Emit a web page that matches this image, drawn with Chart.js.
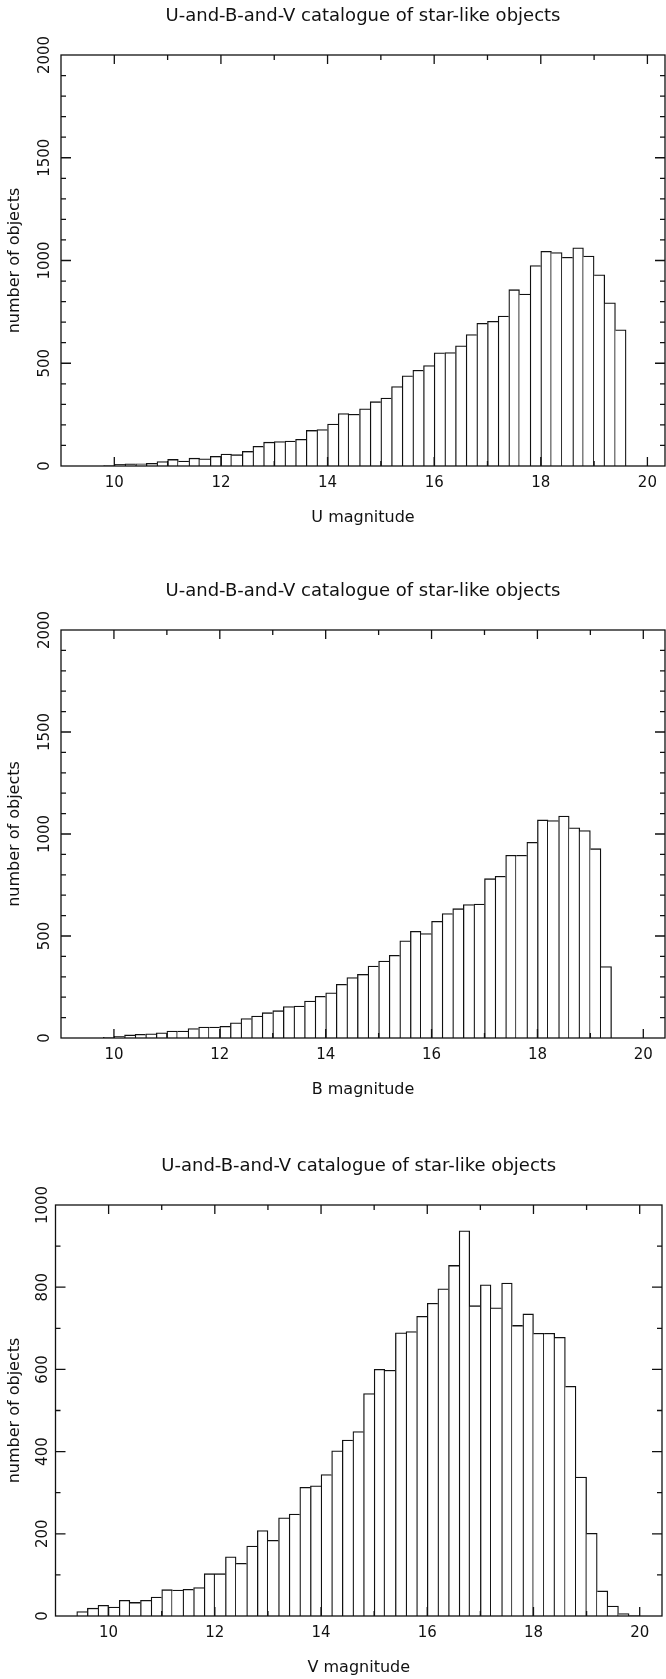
<!DOCTYPE html>
<html>
<head>
<meta charset="utf-8">
<title>U-and-B-and-V catalogue of star-like objects</title>
<script src="https://cdn.jsdelivr.net/npm/chart.js@4.4.1/dist/chart.umd.min.js"></script>
<style>
  html, body { margin: 0; padding: 0; background: #fff; }
  body { position: relative; width: 666px; height: 1679px; overflow: hidden; }
  canvas { position: absolute; left: 0; }
</style>
</head>
<body>
<canvas id="histU" width="666" height="527" style="top:0px"></canvas>
<canvas id="histB" width="666" height="524" style="top:575px"></canvas>
<canvas id="histV" width="666" height="527" style="top:1150px"></canvas>
<script>
"use strict";

const $ = (id) => document.getElementById(id);

const TITLE = "U-and-B-and-V catalogue of star-like objects";
const Y_LABEL = "number of objects";
const BIN = 0.2; // bin width in mag

// ---- U: left edge of each bin + counts ----
const uBins = [9.8, 10.0, 10.2, 10.4, 10.6, 10.8, 11.0, 11.2, 11.4, 11.6, 11.8,
  12.0, 12.2, 12.4, 12.6, 12.8, 13.0, 13.2, 13.4, 13.6, 13.8,
  14.0, 14.2, 14.4, 14.6, 14.8, 15.0, 15.2, 15.4, 15.6, 15.8,
  16.0, 16.2, 16.4, 16.6, 16.8, 17.0, 17.2, 17.4, 17.6, 17.8,
  18.0, 18.2, 18.4, 18.6, 18.8, 19.0, 19.2, 19.4];
const uCounts = [2, 8, 10, 11, 13, 22, 32, 24, 38, 35, 47,
  58, 55, 71, 96, 116, 119, 121, 130, 173, 177,
  204, 255, 252, 278, 313, 331, 387, 439, 466, 489,
  551, 552, 585, 640, 694, 704, 730, 858, 837, 975,
  1045, 1039, 1016, 1062, 1022, 930, 794, 663];

// ---- B ----
const bBins = [9.8, 10.0, 10.2, 10.4, 10.6, 10.8, 11.0, 11.2, 11.4, 11.6, 11.8,
  12.0, 12.2, 12.4, 12.6, 12.8, 13.0, 13.2, 13.4, 13.6, 13.8,
  14.0, 14.2, 14.4, 14.6, 14.8, 15.0, 15.2, 15.4, 15.6, 15.8,
  16.0, 16.2, 16.4, 16.6, 16.8, 17.0, 17.2, 17.4, 17.6, 17.8,
  18.0, 18.2, 18.4, 18.6, 18.8, 19.0, 19.2];
const bCounts = [3, 8, 15, 18, 21, 25, 34, 34, 46, 54, 54,
  57, 74, 95, 108, 124, 134, 154, 157, 181, 204,
  222, 263, 296, 312, 353, 377, 405, 476, 523, 512,
  572, 610, 634, 654, 657, 781, 793, 896, 896, 959,
  1069, 1066, 1088, 1030, 1017, 928, 350];

// ---- V ----
const vBins = [9.4, 9.6, 9.8, 10.0, 10.2, 10.4, 10.6, 10.8, 11.0, 11.2, 11.4, 11.6, 11.8,
  12.0, 12.2, 12.4, 12.6, 12.8, 13.0, 13.2, 13.4, 13.6, 13.8,
  14.0, 14.2, 14.4, 14.6, 14.8, 15.0, 15.2, 15.4, 15.6, 15.8,
  16.0, 16.2, 16.4, 16.6, 16.8, 17.0, 17.2, 17.4, 17.6, 17.8,
  18.0, 18.2, 18.4, 18.6, 18.8, 19.0, 19.2, 19.4, 19.6, 19.8];
const vCounts = [11, 19, 26, 22, 38, 33, 38, 46, 64, 63, 65, 69, 103,
  103, 144, 128, 170, 208, 184, 239, 248, 313, 317,
  344, 402, 428, 449, 541, 600, 598, 689, 692, 729,
  761, 796, 853, 937, 755, 806, 750, 810, 707, 735,
  688, 688, 678, 559, 338, 201, 61, 24, 6, 1];

// ---- tick labels ----
const magTicks = [10, 12, 14, 16, 18, 20];
const ubTicks = [0, 500, 1000, 1500, 2000];
const vTicks = [0, 200, 400, 600, 800, 1000];

const INK = "#111";
const FAMILY = "'DejaVu Sans', sans-serif";
const FONT = { family: FAMILY, size: 15, lineHeight: 1.2 };
const LABEL_FONT = { family: FAMILY, size: 16, lineHeight: 1.2 };
const TITLE_FONT = { family: FAMILY, size: 18, weight: "normal", lineHeight: 1.2 };

// each shared bar edge is drawn once, by the taller neighbour
function edgeWidth(counts, w) {
  return (c) => {
    const i = c.dataIndex;
    if (i == null) return w;
    const left = i === 0 || counts[i - 1] < counts[i] ? w : 0;
    const right = i === counts.length - 1 || counts[i + 1] <= counts[i] ? w : 0;
    return { top: w, left, right, bottom: 0 };
  };
}

// box round the plot + inward ticks on all four sides
const frame = {
  id: "frame",
  afterDatasetsDraw(chart, _args, o) {
    const { ctx, chartArea: a, scales: { x, y } } = chart;
    ctx.save();
    ctx.strokeStyle = INK;
    ctx.lineWidth = 1.3;
    ctx.strokeRect(a.left, a.top, a.right - a.left, a.bottom - a.top);
    ctx.beginPath();
    for (let v = 10; v <= 20; v++) {
      const px = x.getPixelForValue(v);
      const len = v % 2 === 0 ? 9 : 5;
      ctx.moveTo(px, a.top); ctx.lineTo(px, a.top + len);
      ctx.moveTo(px, a.bottom); ctx.lineTo(px, a.bottom - len);
    }
    for (let v = o.yStep; v < y.max; v += o.yStep) {
      const py = y.getPixelForValue(v);
      const len = o.yMajor.includes(v) ? 10 : 5;
      ctx.moveTo(a.left, py); ctx.lineTo(a.left + len, py);
      ctx.moveTo(a.right, py); ctx.lineTo(a.right - len, py);
    }
    ctx.stroke();
    ctx.restore();
  },
};

function histogram(id, p) {
  return new Chart($(id).getContext("2d"), {
    type: "bar",
    data: {
      datasets: [{
        data: p.bins.map((b, i) => ({ x: b + BIN / 2, y: p.counts[i] })),
        backgroundColor: "#fff",
        borderColor: INK,
        borderWidth: edgeWidth(p.counts, 1.3),
        borderSkipped: false,
        barPercentage: 1,
        categoryPercentage: 1,
      }],
    },
    options: {
      responsive: false,
      animation: false,
      layout: { padding: { left: 0, right: p.padRight, top: 0, bottom: 0 } },
      plugins: {
        legend: { display: false },
        tooltip: { enabled: false },
        title: { display: true, text: TITLE, fullSize: false, color: INK, font: TITLE_FONT, padding: { top: 5.4, bottom: 28 } },
        frame: { yStep: 100, yMajor: p.yTicks },
      },
      scales: {
        x: {
          type: "linear", min: 9, max: p.xMax, offset: false,
          grid: { display: false, drawTicks: false }, border: { display: false },
          afterBuildTicks: (s) => { s.ticks = magTicks.map((v) => ({ value: v })); },
          ticks: { color: INK, font: FONT, padding: 8, maxRotation: 0, autoSkip: false, callback: (v) => String(v) },
          title: { display: true, text: p.xLabel, color: INK, font: LABEL_FONT, padding: { top: 0, bottom: 0 } },
          afterFit: (s) => { s.height = 61; },
        },
        y: {
          min: 0, max: p.yMax,
          grid: { display: false, drawTicks: false }, border: { display: false },
          afterBuildTicks: (s) => { s.ticks = p.yTicks.map((v) => ({ value: v })); },
          ticks: { color: INK, font: FONT, padding: p.yPad, minRotation: 90, maxRotation: 90, crossAlign: "center", autoSkip: false, callback: (v) => String(v) },
          title: { display: true, text: Y_LABEL, color: INK, font: LABEL_FONT, padding: { top: 5.5, bottom: 0 } },
          afterFit: (s) => { s.width = p.axisW; },
        },
      },
    },
    plugins: [frame],
  });
}

histogram("histU", { bins: uBins, counts: uCounts, yMax: 2000, yTicks: ubTicks, xMax: 20.33, xLabel: "U magnitude", axisW: 61, padRight: 1, yPad: -3 });
histogram("histB", { bins: bBins, counts: bCounts, yMax: 2000, yTicks: ubTicks, xMax: 20.41, xLabel: "B magnitude", axisW: 61, padRight: 1, yPad: -3 });
histogram("histV", { bins: vBins, counts: vCounts, yMax: 1000, yTicks: vTicks, xMax: 20.42, xLabel: "V magnitude", axisW: 55.5, padRight: 4, yPad: -7 });
</script>
</body>
</html>
